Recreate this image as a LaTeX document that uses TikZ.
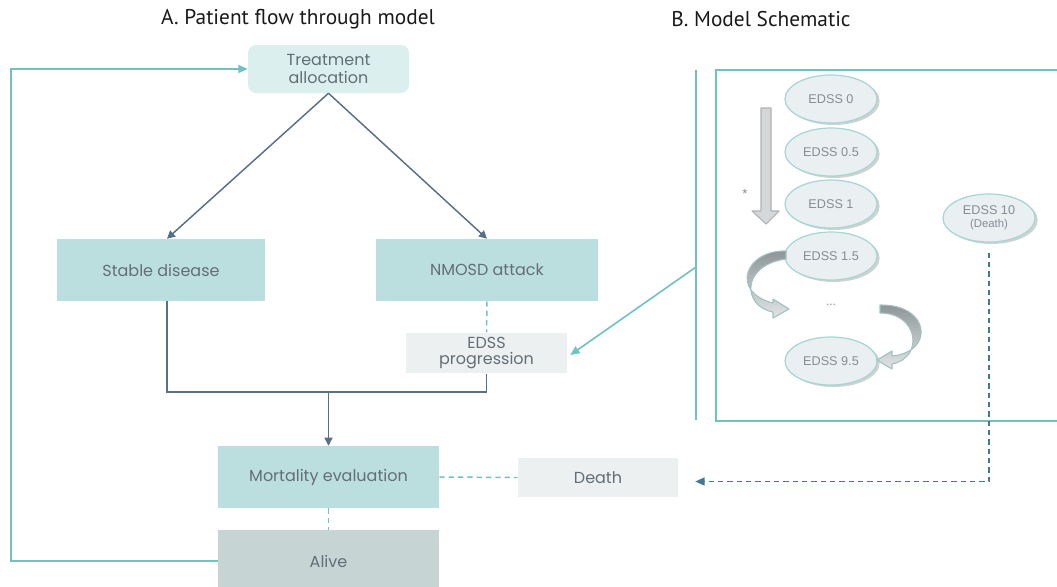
\documentclass[tikz,border=0pt]{standalone}
\usepackage{fontspec}
\setmainfont{Poppins}
\newfontfamily\titlefont{PT Sans}
\newfontfamily\edssfont{Liberation Sans}
\usetikzlibrary{arrows.meta,shapes.geometric,shadows,calc}

\definecolor{tealline}{HTML}{6FC2BF}
\definecolor{slateline}{HTML}{587086}
\definecolor{dashblue}{HTML}{3E7A98}
\definecolor{boxteal}{HTML}{BBDFDF}
\definecolor{boxpale}{HTML}{DCEFEF}
\definecolor{boxgrey}{HTML}{ECF0F0}
\definecolor{boxalive}{HTML}{C6D4D4}
\definecolor{boxtext}{HTML}{636E77}
\definecolor{ellfill}{HTML}{EAEFF1}
\definecolor{elldraw}{HTML}{A3D6D4}
\definecolor{elltext}{HTML}{858D95}
\definecolor{bandtop}{HTML}{8E9496}
\definecolor{bandbot}{HTML}{E2E5E6}
\definecolor{banddraw}{HTML}{9DC3C1}

\newdimen\px \px=0.75pt

\tikzset{
  flowbox/.style={rectangle, fill=boxteal, draw=none, text=boxtext,
    font=\fontsize{12}{14}\selectfont, align=center},
  palebox/.style={flowbox, fill=boxgrey},
  flowline/.style={draw=slateline, line width=1.1pt},
  flowarrow/.style={flowline, -{Triangle[length=6pt,width=6pt]}},
  loopline/.style={draw=tealline, line width=1.2pt},
  tealdash/.style={draw=tealline, line width=1.1pt, dash pattern=on 4pt off 3pt},
  edss/.style={ellipse, fill=ellfill, draw=elldraw, line width=0.9pt,
    minimum width=92\px, minimum height=48\px, text=elltext,
    font=\edssfont\fontsize{9.5}{11}\selectfont, align=center,
    drop shadow={shadow xshift=2pt, shadow yshift=-1.5pt, opacity=0.3, fill=black!60}},
  band/.style={top color=bandtop, bottom color=bandbot, draw=banddraw,
    line width=0.8pt, line join=round},
  title/.style={font=\titlefont\fontsize{16}{19}\selectfont, text=black!90}
}

\begin{document}
\begin{tikzpicture}[x=0.75pt, y=-0.75pt]
\useasboundingbox (0,0) rectangle (1057,586);

% headings
\node[title] (ttlA) at (298,19) {A. Patient flow through model};
\node[title] (ttlB) at (761,19) {B. Model Schematic};

% ---------- patient flow ----------
\node[flowbox, fill=boxpale, rounded corners=6pt, minimum width=161\px, minimum height=48\px]
  (ta) at (328.5,69) {Treatment\\[-1pt]allocation};
\node[flowbox, minimum width=208\px, minimum height=62\px] (sd) at (161,270) {Stable disease};
\node[flowbox, minimum width=222\px, minimum height=62\px] (na) at (487,270) {NMOSD attack};
\node[palebox, minimum width=161\px, minimum height=40\px] (ep) at (486.5,353) {EDSS\\[-2pt]progression};
\node[flowbox, minimum width=221\px, minimum height=62\px] (me) at (328.5,477) {Mortality evaluation};
\node[palebox, minimum width=160\px, minimum height=39\px] (de) at (598,477.5) {Death};
\node[flowbox, fill=boxalive, minimum width=221\px, minimum height=62\px] (al) at (328.5,561) {Alive};

\draw[flowarrow] (ta.south) -- ($(sd.north)+(6,0)$);
\draw[flowarrow] (ta.south) -- (na.north);

\coordinate (join) at (328.5,392);
\draw[flowline] ($(sd.south)+(6,0)$) |- (join);
\draw[flowline] (ep.south) |- (join);
\draw[flowarrow] (join) -- (me.north);

\draw[tealdash] (na.south) -- (ep.north);
\draw[tealdash] (me.east) -- (de.west);
\draw[tealdash] (me.south) -- (al.north);

\draw[loopline, -{Triangle[length=7pt,width=6pt]}] (al.west) -- ++(-207,0) |- (ta.west);

% ---------- model schematic ----------
\coordinate (vtop) at (696,70);
\coordinate (vbot) at (696,420);
\coordinate (vmid) at (696,267);
\draw[loopline] (vtop) -- (vbot);
\draw[loopline, -{Triangle[length=7pt,width=6pt]}] (vmid) -- ($(ep.east)+(3,2)$);

\draw[loopline] (716,70) rectangle (1075,421);

\node[edss] (e0)  at (831,99)  {EDSS 0};
\node[edss] (e05) at (831,152) {EDSS 0.5};
\node[edss] (e1)  at (831,204) {EDSS 1};
\node[edss] (e15) at (831,256) {EDSS 1.5};
\node[text=elltext, font=\edssfont\fontsize{9}{10}\selectfont] (dots) at (831,305) {...};
\node[edss] (e95) at (831,361) {EDSS 9.5};
\node[edss] (e10) at (989,218) {EDSS 10\\[-1pt]{\fontsize{8.5}{9.5}\selectfont(Death)}};

% straight progression arrow
\draw[fill=ellfill!40!bandbot!80!bandtop, draw=black!30, line width=0.8pt, line join=round]
  (761,108) -- (771,108) -- (771,211) -- (779,211) -- (766,224) -- (752,211) -- (761,211) -- cycle;
\node[text=elltext, font=\edssfont\fontsize{10}{10}\selectfont] (star) at (745,194) {*};

% curved progression arrows
\draw[band]
  (786,251) .. controls (745,250) and (730,292) .. (773,303)
  -- (773,299) -- (789,309) -- (773,318) -- (773,312)
  .. controls (742,306) and (741,265) .. (786,259) -- cycle;
\draw[band]
  (880,305) .. controls (930,304) and (935,352) .. (892,356)
  -- (892,351) -- (877,360) -- (892,369) -- (892,364)
  .. controls (924,358) and (919,313) .. (880,313) -- cycle;

% death transition
\draw[draw=dashblue, line width=1.1pt, dash pattern=on 4pt off 3pt,
      -{Triangle[length=7pt,width=6pt]}]
  ($(e10.south)+(0,10)$) |- ($(de.east)+(17,4)$);
\end{tikzpicture}
\end{document}
